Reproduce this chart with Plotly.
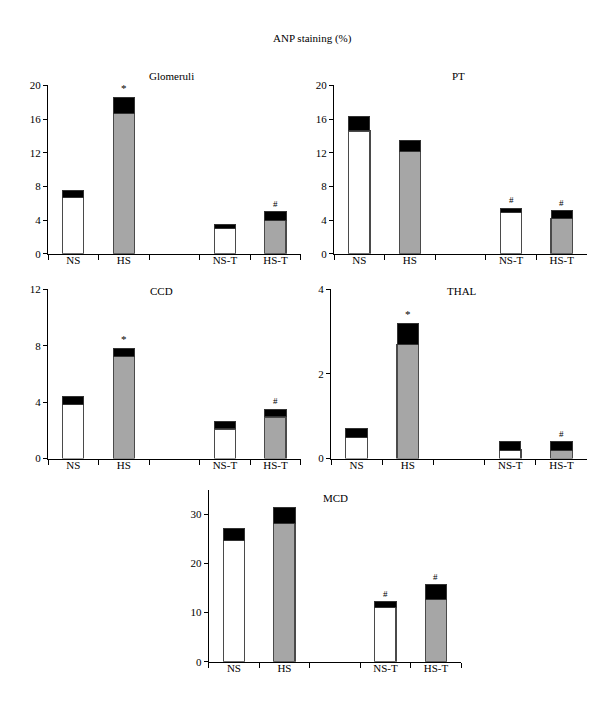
import plotly.graph_objects as go

categories = ["NS", "HS", " ", "NS-T", "HS-T"]
panels = ["Glomeruli", "PT", "CCD", "THAL", "MCD"]

glom_mean = [6.7, 16.7, None, 3.0, 4.0]
glom_err = [0.8, 1.9, None, 0.5, 1.0]
glom_mark = ["", "*", "", "", "#"]

pt_mean = [14.6, 12.2, None, 4.9, 4.2]
pt_err = [1.7, 1.3, None, 0.5, 0.9]
pt_mark = ["", "", "", "#", "#"]

ccd_mean = [3.85, 7.25, None, 2.1, 2.95]
ccd_err = [0.55, 0.55, None, 0.5, 0.55]
ccd_mark = ["", "*", "", "", "#"]

thal_mean = [0.5, 2.7, None, 0.2, 0.2]
thal_err = [0.2, 0.5, None, 0.2, 0.2]
thal_mark = ["", "*", "", "", "#"]

mcd_mean = [24.6, 28.1, None, 11.1, 12.6]
mcd_err = [2.5, 3.2, None, 1.1, 3.1]
mcd_mark = ["", "", "", "#", "#"]

y_ranges = [[0, 20], [0, 20], [0, 12], [0, 4], [0, 35]]
y_ticks = [[0, 4, 8, 12, 16, 20], [0, 4, 8, 12, 16, 20], [0, 4, 8, 12], [0, 2, 4], [0, 10, 20, 30]]

bar_colors = ["white", "#a6a6a6", "white", "white", "#a6a6a6"]

W, H = 600, 701
# pixel boxes: (x0, x1, ytop, ybottom)
boxes = [
    (40, 292.7, 72.7, 244),
    (326, 579, 72.7, 244),
    (40, 292.7, 280, 452.3),
    (323, 579, 280, 452.3),
    (200.7, 453.2, 484, 659),
]
title_pos = [(163, 63), (450, 63), (153, 282), (454, 282), (327, 492)]

data = [
    (glom_mean, glom_err, glom_mark),
    (pt_mean, pt_err, pt_mark),
    (ccd_mean, ccd_err, ccd_mark),
    (thal_mean, thal_err, thal_mark),
    (mcd_mean, mcd_err, mcd_mark),
]

FONT = "Liberation Serif"
fig = go.Figure()
layout = dict(
    width=W, height=H, margin=dict(l=0, r=0, t=0, b=0),
    paper_bgcolor="white", plot_bgcolor="white",
    barmode="stack", showlegend=False,
    font=dict(family=FONT, size=11, color="black"),
)
annotations = []

for i, (mean, err, mark) in enumerate(data):
    n = "" if i == 0 else str(i + 1)
    xa, ya = "x" + n, "y" + n
    fig.add_trace(go.Bar(
        x=categories, y=mean, width=0.42, xaxis=xa, yaxis=ya,
        marker=dict(color=bar_colors, line=dict(color="#4a4a4a", width=1.2)),
    ))
    fig.add_trace(go.Bar(
        x=categories, y=err, width=0.42, xaxis=xa, yaxis=ya,
        marker=dict(color="black", line=dict(color="#333333", width=1)),
    ))
    x0, x1, yt, yb = boxes[i]
    layout["xaxis" + n] = dict(
        domain=[x0 / W, x1 / W], anchor=ya, type="category",
        categoryorder="array", categoryarray=categories, range=[-0.5, 4.5],
        tickson="boundaries", ticks="outside", ticklen=5, tickwidth=1,
        tickcolor="black", showline=True, linecolor="black", linewidth=1,
        showgrid=False, zeroline=False, tickfont=dict(family=FONT, size=11),
        ticklabelstandoff=-4,
    )
    layout["yaxis" + n] = dict(
        domain=[1 - yb / H, 1 - yt / H], anchor=xa, range=y_ranges[i],
        tickvals=y_ticks[i], ticks="outside", ticklen=4, tickwidth=1,
        tickcolor="black", showline=True, linecolor="black", linewidth=1,
        showgrid=False, zeroline=False, tickfont=dict(family=FONT, size=11),
    )
    tx, ty = title_pos[i]
    annotations.append(dict(
        x=tx / W, y=1 - ty / H, xref="paper", yref="paper", text=panels[i],
        showarrow=False, xanchor="center", yanchor="middle",
        font=dict(family=FONT, size=11),
    ))
    for c, m, e, mk in zip(categories, mean, err, mark):
        if mk and m is not None:
            annotations.append(dict(
                x=c, y=m + e, xref=xa, yref=ya, text=mk, showarrow=False,
                xanchor="center", yanchor="bottom", yshift=1,
                font=dict(family=FONT, size=9 if mk == "#" else 11),
            ))

annotations.append(dict(
    x=304 / W, y=1 - 25 / H, xref="paper", yref="paper", text="ANP staining (%)",
    showarrow=False, xanchor="center", yanchor="middle",
    font=dict(family=FONT, size=11),
))
layout["annotations"] = annotations
fig.update_layout(**layout)
fig.write_html("out.html")
